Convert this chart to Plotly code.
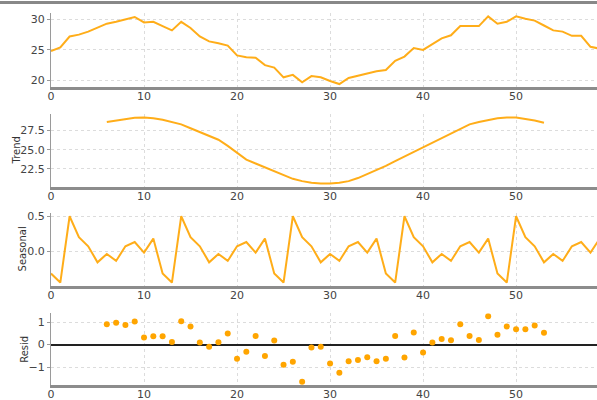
import plotly.graph_objects as go
from plotly.subplots import make_subplots

index = list(range(60))
observed = [24.8, 25.4, 27.2, 27.5, 28.0, 28.6, 29.3, 29.6, 30.0, 30.4,
            29.5, 29.6, 28.9, 28.2, 29.6, 28.6, 27.2, 26.4, 26.1, 25.7,
            24.1, 23.8, 23.7, 22.5, 22.1, 20.5, 20.9, 19.7, 20.7, 20.5,
            19.9, 19.4, 20.4, 20.8, 21.1, 21.5, 21.7, 23.2, 23.9, 25.3,
            25.0, 25.9, 26.9, 27.4, 28.9, 28.9, 28.9, 30.5, 29.3, 29.6,
            30.5, 30.1, 29.8, 29.0, 28.2, 28.0, 27.3, 27.3, 25.5, 25.2]

trend_index = list(range(6, 54))
trend = [28.6, 28.8, 29.0, 29.15, 29.2, 29.1, 28.9, 28.6, 28.3, 27.8,
         27.3, 26.8, 26.3, 25.5, 24.6, 23.7, 23.2, 22.7, 22.2, 21.6,
         21.2, 20.9, 20.7, 20.6, 20.6, 20.7, 20.9, 21.3, 21.8, 22.3,
         22.9, 23.5, 24.1, 24.8, 25.4, 26.0, 26.6, 27.1, 27.7, 28.3,
         28.6, 28.9, 29.1, 29.2, 29.2, 29.0, 28.8, 28.5]

seasonal = [-0.32, -0.45, 0.5, 0.2, 0.07, -0.16, -0.04, -0.14, 0.07, 0.13, -0.02, 0.18,
            -0.32, -0.45, 0.5, 0.2, 0.07, -0.16, -0.04, -0.14, 0.07, 0.13, -0.02, 0.18,
            -0.32, -0.45, 0.5, 0.2, 0.07, -0.16, -0.04, -0.14, 0.07, 0.13, -0.02, 0.18,
            -0.32, -0.45, 0.5, 0.2, 0.07, -0.16, -0.04, -0.14, 0.07, 0.13, -0.02, 0.18,
            -0.32, -0.45, 0.5, 0.2, 0.07, -0.16, -0.04, -0.14, 0.07, 0.13, -0.02, 0.18]

resid_index = list(range(6, 54))
resid = [0.91, 0.97, 0.87, 1.03, 0.32, 0.37, 0.37, 0.12, 1.04, 0.81,
         0.09, -0.10, 0.10, 0.49, -0.63, -0.32, 0.38, -0.51, 0.18, -0.90,
         -0.76, -1.66, -0.13, -0.10, -0.84, -1.25, -0.74, -0.69, -0.56, -0.74,
         -0.63, 0.38, -0.57, 0.54, -0.35, 0.09, 0.25, 0.19, 0.91, 0.38,
         0.21, 1.26, 0.44, 0.81, 0.69, 0.69, 0.85, 0.53]

ylabels = ["", "Trend", "Seasonal", "Resid"]
orange = "#FFA500"

fig = make_subplots(rows=4, cols=1)
fig.add_trace(go.Scatter(x=index, y=observed, mode="lines",
                         line=dict(color=orange, width=2), opacity=0.9), row=1, col=1)
fig.add_trace(go.Scatter(x=trend_index, y=trend, mode="lines",
                         line=dict(color=orange, width=2), opacity=0.9), row=2, col=1)
fig.add_trace(go.Scatter(x=index, y=seasonal, mode="lines",
                         line=dict(color=orange, width=2), opacity=0.9), row=3, col=1)
fig.add_trace(go.Scatter(x=resid_index, y=resid, mode="markers",
                         marker=dict(color=orange, size=6)), row=4, col=1)

# paper spans y pixels 13..385
domains = [[0.80, 1.0], [0.533, 0.728], [0.266, 0.463], [0.0, 0.193]]
yranges = [[18.85, 31.05], [20.17, 29.63], [-0.5, 0.55], [-1.8, 1.4]]
ytickvals = [[20, 25, 30], [22.5, 25.0, 27.5], [0.0, 0.5], [-1, 0, 1]]
yticktext = [["20", "25", "30"], ["22.5", "25.0", "27.5"], ["0.0", "0.5"], ["\u22121", "0", "1"]]
label_x = [0, -0.064, -0.053, -0.050]

for i in range(4):
    ax = "" if i == 0 else str(i + 1)
    fig.layout["xaxis" + ax].update(
        range=[0, 58.7], tickvals=[0, 10, 20, 30, 40, 50],
        showgrid=True, gridcolor="#dcdcdc", griddash="dot", gridwidth=1,
        showline=True, linecolor="#8c8c8c", linewidth=2.5,
        ticks="", automargin=False, ticklabelstandoff=-3,
        tickfont=dict(size=11, color="#444444"), zeroline=False,
    )
    fig.layout["yaxis" + ax].update(
        domain=domains[i], range=yranges[i],
        tickvals=ytickvals[i], ticktext=yticktext[i],
        showgrid=True, gridcolor="#dcdcdc", griddash="dot", gridwidth=1,
        showline=True, linecolor="#9a9a9a", linewidth=1,
        ticks="outside", ticklen=3, tickcolor="#9a9a9a",
        tickfont=dict(size=11, color="#444444"), automargin=False,
        zeroline=(i == 3), zerolinecolor="#222222", zerolinewidth=1.8,
    )
    if ylabels[i]:
        fig.add_annotation(text=ylabels[i], xref="paper", yref="paper",
                           x=label_x[i], y=sum(domains[i]) / 2, textangle=-90,
                           showarrow=False, xanchor="center", yanchor="middle",
                           font=dict(size=10, color="#333333"))

fig.add_shape(type="line", xref="paper", yref="paper", x0=-0.1, x1=1.0,
              y0=1.028, y1=1.028, line=dict(color="#888888", width=3))

fig.update_layout(
    width=597, height=400,
    margin=dict(l=51, r=0, t=13, b=15),
    plot_bgcolor="white", paper_bgcolor="white",
    showlegend=False,
    font=dict(family="DejaVu Sans"),
)

fig.write_html("out.html", config={"displayModeBar": False},
               post_script="document.body.style.margin='0';document.body.style.overflow='hidden';")
